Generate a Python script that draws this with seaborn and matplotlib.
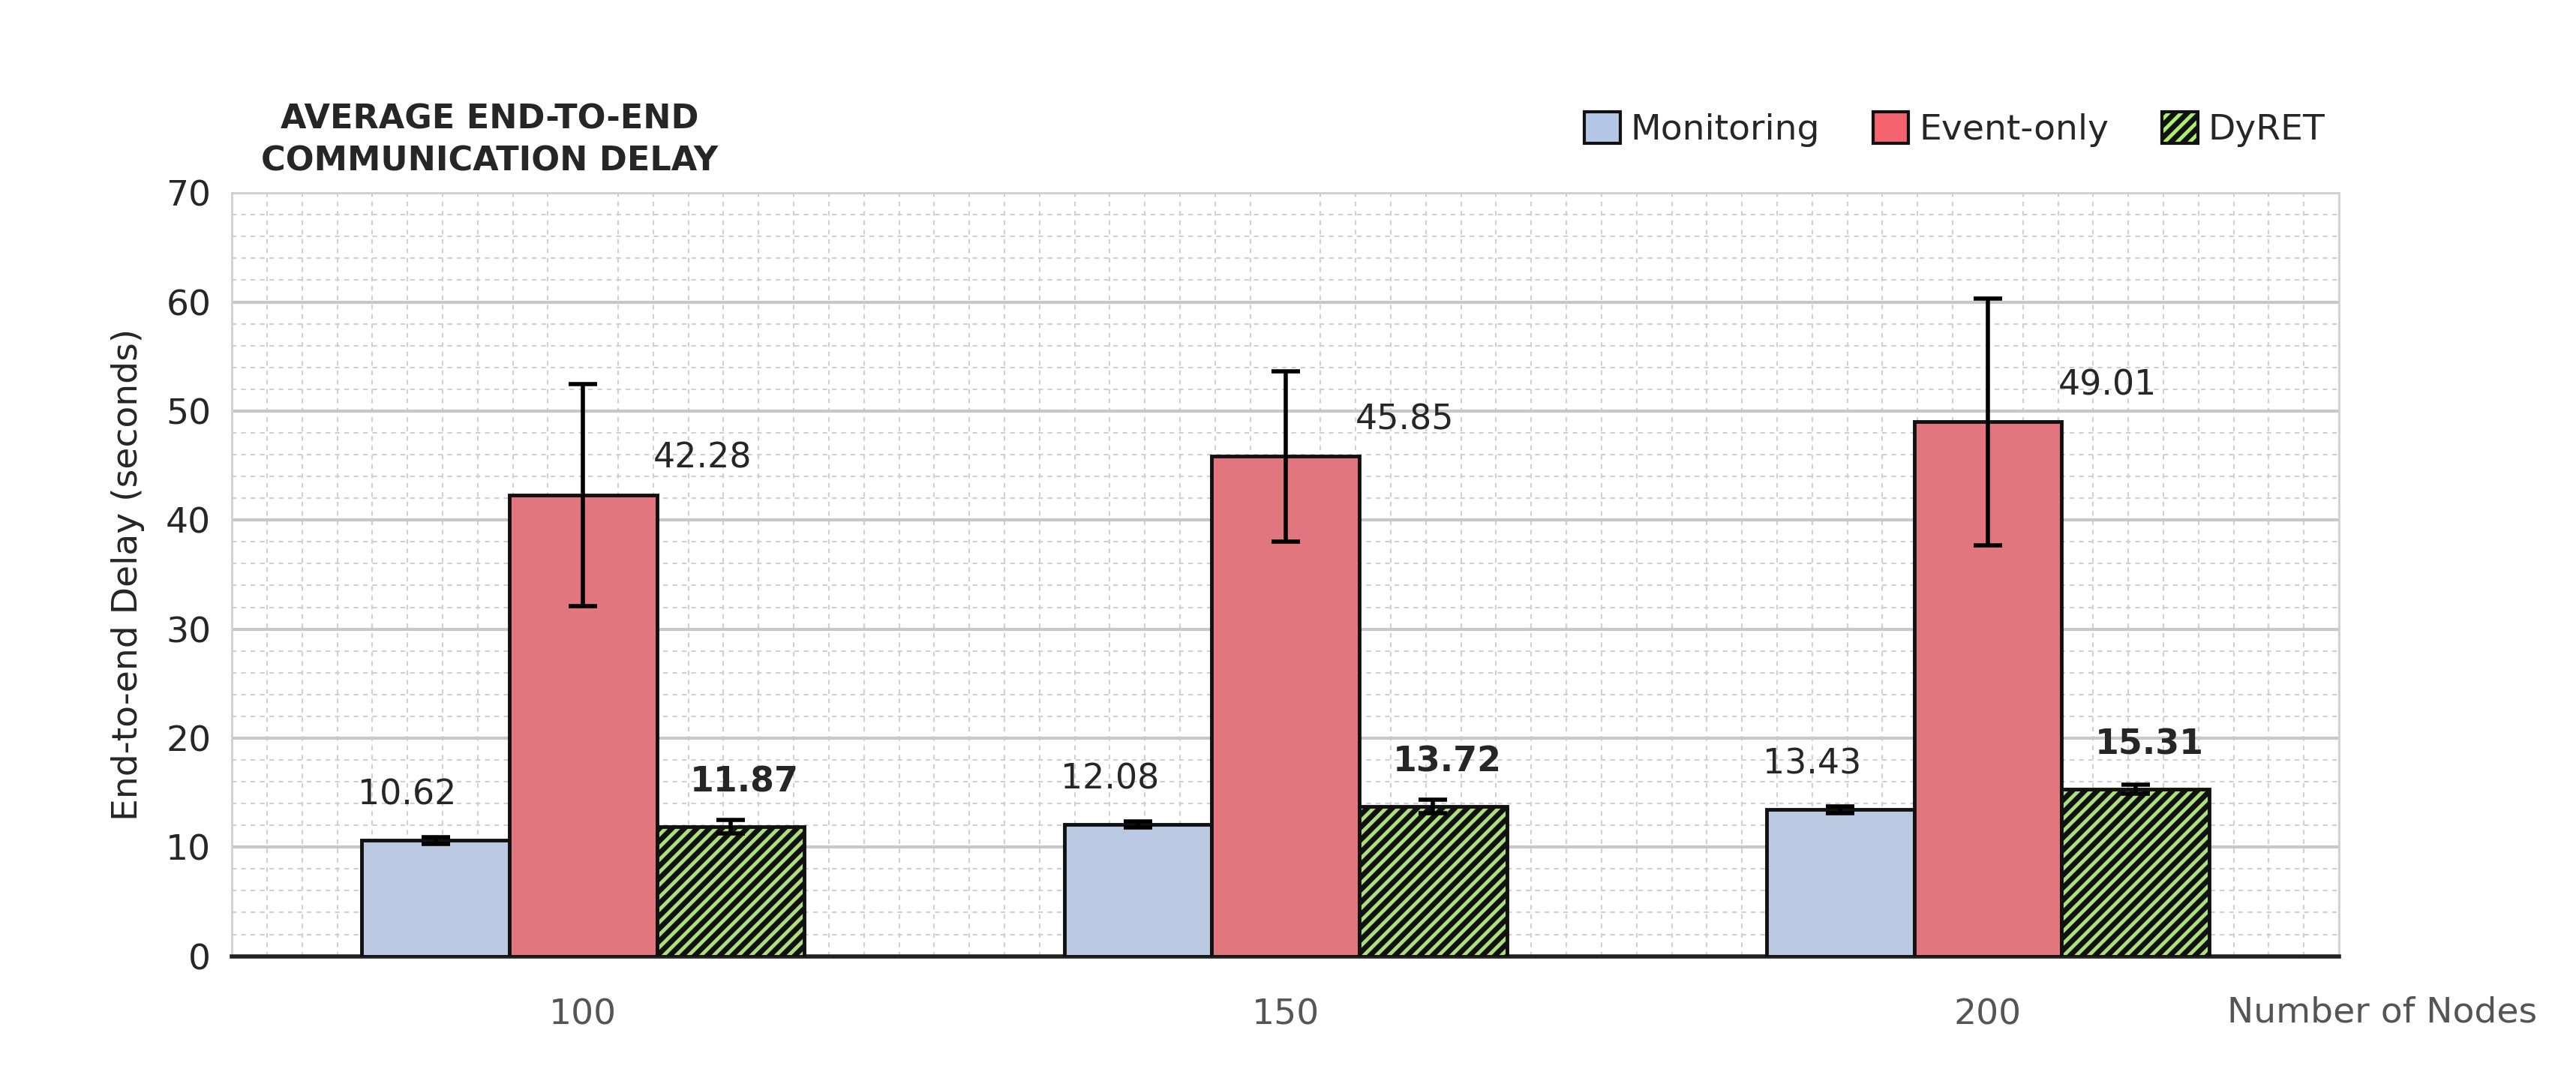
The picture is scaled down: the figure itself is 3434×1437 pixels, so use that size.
import matplotlib
matplotlib.use("Agg")
import matplotlib.pyplot as plt
import seaborn as sns
import pandas as pd
import numpy as np
from matplotlib.ticker import MultipleLocator
from matplotlib.patches import Patch

nodes = ["100", "150", "200"]
series = ["Monitoring", "Event-only", "DyRET"]
monitoring = [10.62, 12.08, 13.43]
event_only = [42.28, 45.85, 49.01]
dyret = [11.87, 13.72, 15.31]
err_monitoring = [0.3, 0.3, 0.3]
err_event = [10.2, 7.8, 11.3]
err_dyret = [0.6, 0.6, 0.4]
colors = ["#b4c7e7", "#f4646e", "#adf06b"]

sns.set_theme(style="white")
plt.rcParams['font.family'] = ['DejaVu Sans']
plt.rcParams['hatch.color'] = "#6aaa3a"
plt.rcParams['hatch.linewidth'] = 5

rows = []
for name, vals in zip(series, [monitoring, event_only, dyret]):
    for n, v in zip(nodes, vals):
        rows.append({"Nodes": n, "Series": name, "Delay": v})
df = pd.DataFrame(rows)

fig = plt.figure(figsize=(34.34, 14.37), dpi=100)
ax = fig.add_axes([0.09, 0.113, 0.818, 0.708])
sns.barplot(data=df, x="Nodes", y="Delay", hue="Series", order=nodes, hue_order=series,
            palette=colors, width=0.63, edgecolor="#111111", linewidth=3.5, ax=ax,
            errorbar=None, legend=False, zorder=3)

bar_conts = list(ax.containers[:3])
errs = [err_monitoring, err_event, err_dyret]
vals_all = [monitoring, event_only, dyret]
for si, cont in enumerate(bar_conts):
    for bi, bar in enumerate(cont):
        xc = bar.get_x() + bar.get_width() / 2
        v = vals_all[si][bi]
        ax.errorbar(xc, v, yerr=errs[si][bi], fmt="none", ecolor="black",
                    elinewidth=4, capsize=14, capthick=4, zorder=5)
        if si == 2:
            bar.set_hatch("//")
        if si == 0:
            ax.text(xc - 0.04, v + 2.6, f"{v:.2f}", ha="center", va="bottom", fontsize=33, zorder=6)
        elif si == 1:
            ax.text(xc + 0.1, v + 1.8, f"{v:.2f}", ha="left", va="bottom", fontsize=33, zorder=6)
        else:
            ax.text(xc + 0.02, v + 2.5, f"{v:.2f}", ha="center", va="bottom", fontsize=33,
                    fontweight="bold", zorder=6)

ax.set_ylim(0, 70)
ax.set_xlim(-0.5, 2.5)
ax.yaxis.set_major_locator(MultipleLocator(10))
ax.yaxis.set_minor_locator(MultipleLocator(2))
ax.xaxis.set_minor_locator(MultipleLocator(0.05))
ax.grid(True, which="major", axis="y", color="#c8c8c8", linewidth=3, zorder=0)
ax.grid(True, which="minor", axis="both", color="#d0d0d0", linewidth=1.5, linestyle=(0, (3, 3)), zorder=0)
ax.set_axisbelow(True)
for s in ["top", "right", "left"]:
    ax.spines[s].set_color("#d0d0d0")
    ax.spines[s].set_linewidth(2)
ax.spines["bottom"].set_color("#222222")
ax.spines["bottom"].set_linewidth(4)
ax.tick_params(axis="y", labelsize=34, length=0, pad=20, which="both")
ax.tick_params(axis="x", labelsize=34, length=0, pad=40, labelcolor="#555555", which="both")
ax.set_xlabel("")
ax.set_ylabel("End-to-end Delay (seconds)", fontsize=34, labelpad=20)
fig.text(0.985, 0.045, "Number of Nodes", ha="right", va="bottom", fontsize=34, color="#555555")
fig.text(0.19, 0.87, "AVERAGE END-TO-END\nCOMMUNICATION DELAY", ha="center", va="center",
         fontsize=32, fontweight="heavy", linespacing=1.4)

handles = [Patch(facecolor=colors[0], edgecolor="#111111", linewidth=3),
           Patch(facecolor=colors[1], edgecolor="#111111", linewidth=3),
           Patch(facecolor=colors[2], edgecolor="#111111", linewidth=3, hatch="//")]
fig.legend(handles, series, loc="center right", bbox_to_anchor=(0.915, 0.88), ncol=3,
           frameon=False, fontsize=34, handlelength=1.0, handleheight=1.0, columnspacing=1.5,
           handletextpad=0.3)

fig.savefig("out.png", dpi=100)
